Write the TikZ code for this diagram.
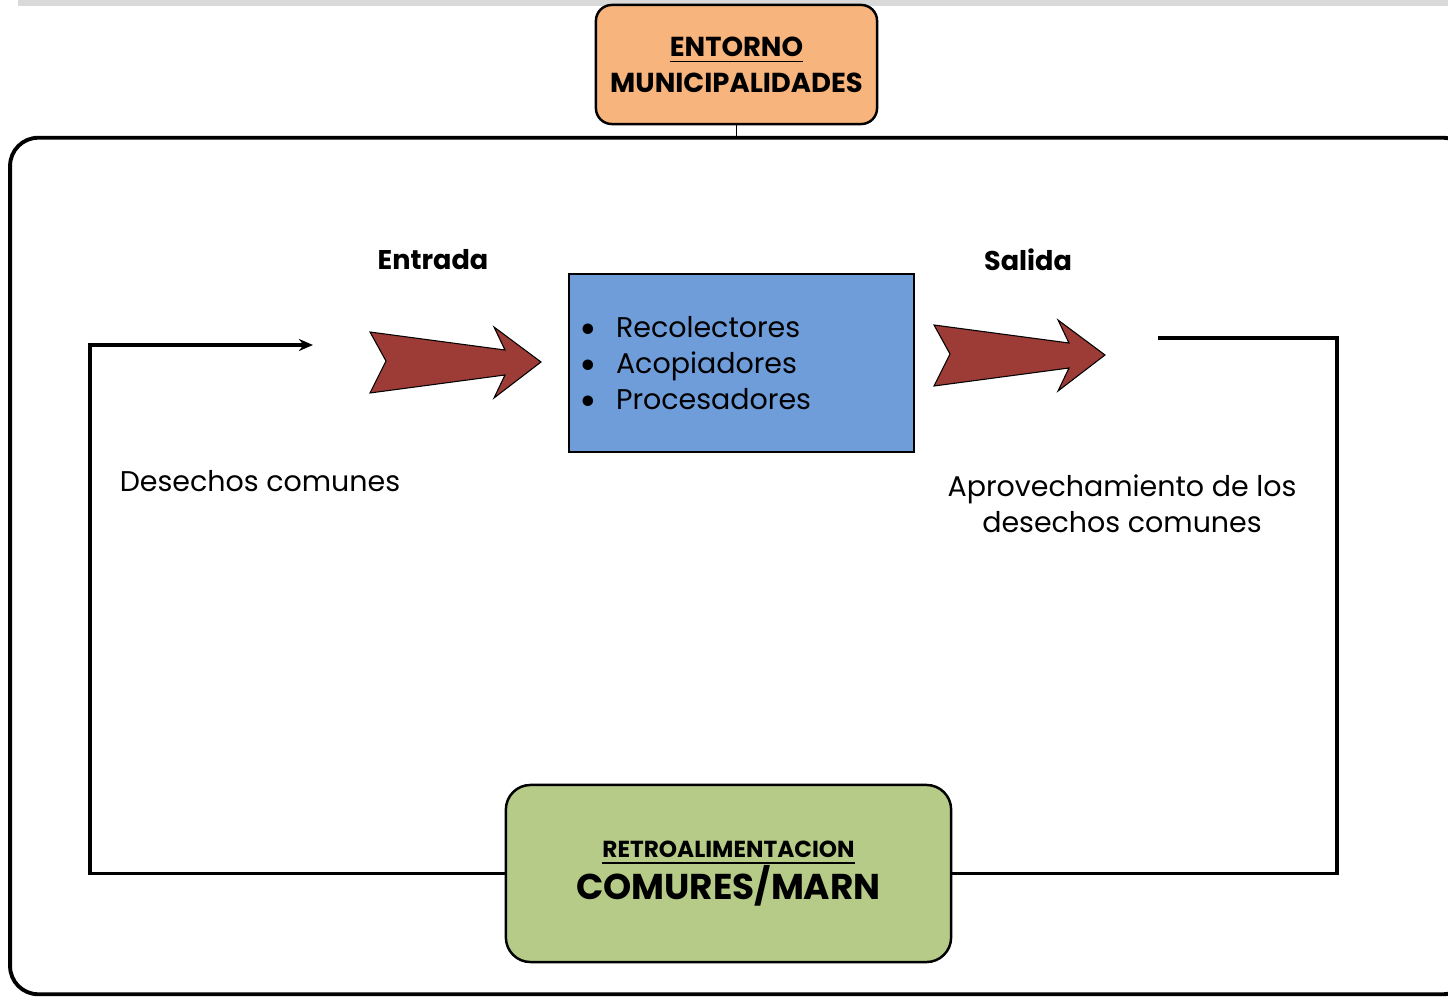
\documentclass[tikz,border=0pt]{standalone}
\usepackage{fontspec}
\setmainfont{Poppins}
\usetikzlibrary{arrows.meta,positioning,calc}
\definecolor{envorange}{HTML}{F7B47C}
\definecolor{procblue}{HTML}{6E9DDA}
\definecolor{fbgreen}{HTML}{B5CB87}
\definecolor{arrowred}{HTML}{9D3B36}
\newcommand{\blt}{\raisebox{-1.7pt}{\scalebox{1.5}{\textbullet}}\hspace{1.9mm}}
\begin{document}
\begin{tikzpicture}[
    x=0.01cm, y=-0.01cm,
    every node/.style={font=\fontsize{8.1}{10.1}\selectfont},
    sysbox/.style={rectangle, draw, line width=1.1pt, rounded corners=8pt, minimum width=14.6cm, minimum height=8.56cm},
    envbox/.style={rectangle, draw, line width=0.7pt, rounded corners=4.5pt, fill=envorange, minimum width=2.81cm, minimum height=1.19cm, align=center, font=\fontsize{7.8}{10.2}\selectfont\bfseries},
    procbox/.style={rectangle, draw, line width=0.7pt, fill=procblue, minimum width=3.45cm, minimum height=1.78cm},
    fbbox/.style={rectangle, draw, line width=0.7pt, rounded corners=7pt, fill=fbgreen, minimum width=4.45cm, minimum height=1.77cm, align=center},
    fatarrow/.style={draw, line width=0.3pt, fill=arrowred},
    loopline/.style={line width=1.1pt},
    arr/.style={-{Stealth[length=4pt, width=3.4pt]}, loopline},
]
    \useasboundingbox (0,0) rectangle (1448,997);
    \fill[gray!30] (18,0) rectangle (1448,6);

    \node[sysbox] (sys) at (740.5,566) {};
    \node[envbox] (ent) at (736.5,64.5) {\underline{ENTORNO}\\MUNICIPALIDADES};
    \draw (ent.south) -- (ent.south |- sys.north);

    \node[procbox] (proc) at (741.5,363) {};
    \node[anchor=west, align=left, font=\fontsize{8.1}{10.3}\selectfont] (list) at (567,366)
        {\blt Recolectores\\
         \blt Acopiadores\\
         \blt Procesadores};

    \node[font=\fontsize{7.7}{10}\selectfont\bfseries] (in) at (433,260) {Entrada};
    \node[font=\fontsize{7.7}{10}\selectfont\bfseries] (out) at (1028,260) {Salida};
    \node (inlbl) at (260,481) {Desechos comunes};
    \node[align=center] (outlbl) at (1122,504) {Aprovechamiento de los\\desechos comunes};

    % fat arrows in and out
    \foreach \dx/\dy in {0/0, 564/-7}
        \draw[fatarrow, shift={(\dx,\dy)}] (370,332) -- (505,350) -- (494,327) -- (541,362)
            -- (494,398) -- (505,375) -- (370,393) -- (386,361) -- cycle;

    \node[fbbox] (fb) at (728.5,873.5)
        {{\fontsize{6.6}{9}\selectfont\bfseries\underline{RETROALIMENTACION}}\\[-1pt]
         {\fontsize{10.2}{12}\selectfont\bfseries COMURES/MARN}};

    \coordinate (loopstart) at (1158,338);
    \coordinate (loopend) at (313,345);
    \draw[loopline] (loopstart) -- (1337,338) |- (fb.east);
    \draw[arr] (fb.west) -| (90,345) -- (loopend);
\end{tikzpicture}
\end{document}
